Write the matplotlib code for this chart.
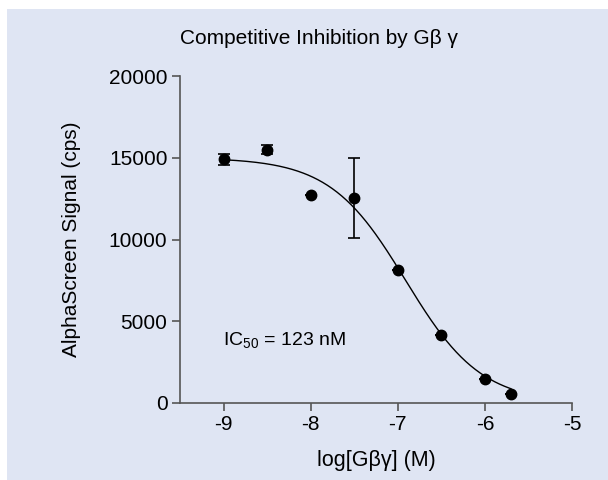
import numpy as np
import matplotlib
matplotlib.use("Agg")
import matplotlib.pyplot as plt
from matplotlib.patches import Rectangle

plt.rcParams['font.family'] = ['Liberation Sans', 'DejaVu Sans']
plt.rcParams['mathtext.default'] = 'regular'

# Data
log_conc = [-9.0, -8.5, -8.0, -7.5, -7.0, -6.5, -6.0, -5.7]
signal = [14900, 15500, 12700, 12530, 8130, 4160, 1470, 550]
err = [350, 300, 0, 2450, 0, 0, 0, 0]

# fitted curve parameters
top = 15000
bottom = 0
log_ic50 = -6.91
hill = 1.0

x_ticks = [-9, -8, -7, -6, -5]
y_ticks = [0, 5000, 10000, 15000, 20000]

bg = '#dfe5f3'
axc = '#555555'

fig = plt.figure(figsize=(6.08, 4.80), dpi=100, facecolor='white')
rect = Rectangle((7/608, 0), 1 - 7/608, 471/480, transform=fig.transFigure,
                 facecolor=bg, edgecolor='none', zorder=-10)
fig.add_artist(rect)

ax = fig.add_axes([180/608, (480-403)/480, (572-180)/608, (403-76)/480])
ax.set_facecolor('none')
ax.set_zorder(5)

xc = np.linspace(min(log_conc), max(log_conc), 300)
yc = bottom + (top - bottom) / (1 + 10 ** ((xc - log_ic50) * hill))
ax.plot(xc, yc, color='black', lw=1.0, zorder=2)

ax.errorbar(log_conc, signal, yerr=err, fmt='o', color='black', ms=7.5,
            ecolor='black', elinewidth=1.2, capsize=4, capthick=1.2, zorder=3)

ax.set_xlim(-9.5, -5)
ax.set_ylim(0, 20000)
ax.set_xticks(x_ticks)
ax.set_xticklabels([str(t) for t in x_ticks])
ax.set_yticks(y_ticks)

for s in ['top', 'right']:
    ax.spines[s].set_visible(False)
for s in ['left', 'bottom']:
    ax.spines[s].set_color(axc)
    ax.spines[s].set_linewidth(1.2)
ax.tick_params(axis='both', colors=axc, length=6, width=1.2, labelsize=15,
               labelcolor='black', pad=3)

ax.set_xlabel('log[Gβγ] (M)', fontsize=15.5, labelpad=11)
ax.set_ylabel('AlphaScreen Signal (cps)', fontsize=15, labelpad=20)
fig.text(319/608, 1 - 39/480, 'Competitive Inhibition by Gβ γ', fontsize=15,
         ha='center', va='center')

ax.text(-9.01, 3850, 'IC$_{50}$ = 123 nM', fontsize=14, ha='left', va='center')

fig.savefig('out.png', dpi=100, facecolor='white')
